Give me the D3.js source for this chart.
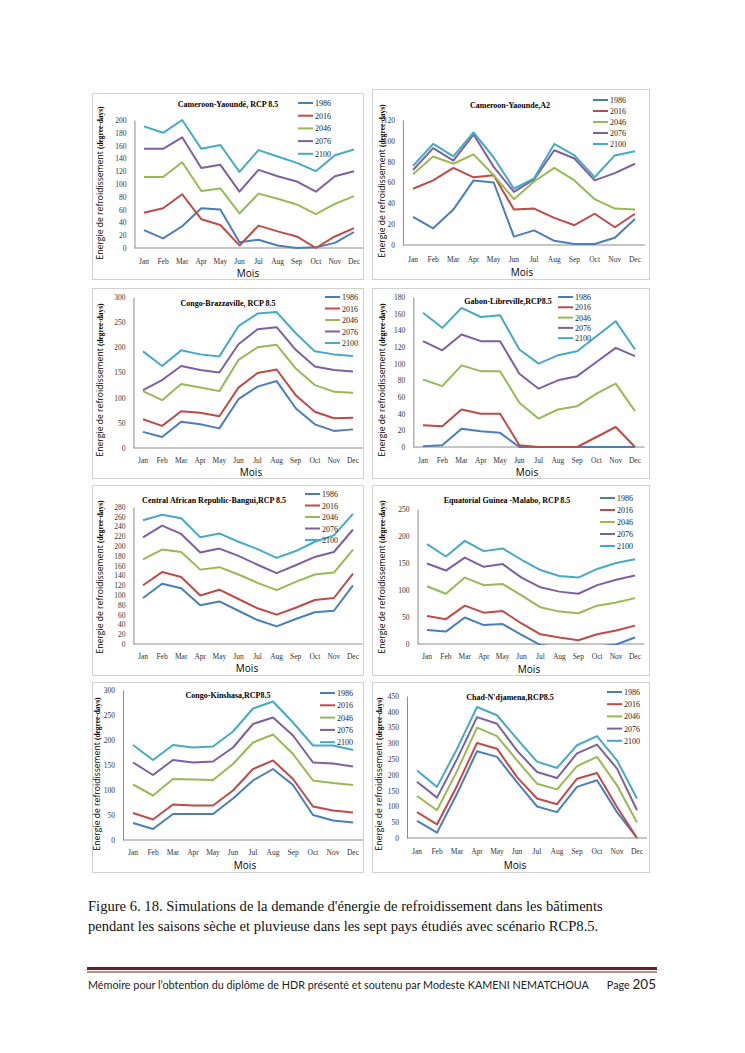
<!DOCTYPE html>
<html>
<head>
<meta charset="utf-8">
<script src="https://d3js.org/d3.v7.min.js"></script>
<style>
  body { margin: 0; background: #fff; }
</style>
</head>
<body>
<script>
// months and scenario years shared by all eight panels
var months = ["Jan","Feb","Mar","Apr","May","Jun","Jul","Aug","Sep","Oct","Nov","Dec"];
var years = ["1986","2016","2046","2076","2100"];
var colors = ["#4a7ebb","#be4b48","#98b954","#7d60a0","#46aac5"];

var serif = "Liberation Serif, serif";
var sans = "Open Sans, sans-serif";

// values, one row per year (1986, 2016, 2046, 2076, 2100)
var yaoundeRcp = [
  [28,15,34,62,60,9,13,4,0,1,8,25],
  [55,62,84,45,36,4,35,26,18,0,18,31],
  [111,111,134,89,93,54,85,77,68,53,69,81],
  [155,155,173,125,130,88,122,112,104,88,112,120],
  [190,180,200,155,161,119,153,143,133,120,145,154]
];
var yaoundeA2 = [
  [27,16,34,62,60,8,14,4,1,1,7,25],
  [54,62,74,65,67,34,35,26,19,30,17,30],
  [68,85,78,87,67,44,61,74,62,44,35,34],
  [72,93,81,106,75,51,63,91,83,62,69,78],
  [76,97,85,108,84,54,64,97,86,65,86,90]
];
var brazzaville = [
  [32,22,52,47,39,97,122,133,79,47,34,37],
  [57,44,73,70,63,120,149,156,105,72,59,60],
  [113,95,127,120,113,175,200,205,158,125,112,110],
  [115,135,163,155,150,206,236,240,195,162,155,152],
  [192,163,194,186,182,242,267,270,228,192,186,183]
];
var libreville = [
  [1,2,22,19,17,0,0,0,0,0,0,0],
  [26,25,45,40,40,2,0,0,0,12,24,0],
  [81,73,98,91,91,53,34,45,49,64,76,43],
  [127,116,135,127,127,88,70,80,85,102,119,109],
  [161,143,167,156,158,117,100,110,115,133,151,117]
];
var bangui = [
  [94,123,114,79,87,68,49,36,51,65,68,120],
  [120,147,137,99,111,92,73,60,74,90,94,144],
  [173,193,188,152,157,142,125,110,127,142,146,193],
  [218,242,225,187,195,180,162,145,161,178,188,234],
  [253,264,257,218,226,209,194,176,190,209,222,266]
];
var malabo = [
  [26,23,49,35,37,17,-2,-6,-8,-5,-1,12],
  [52,46,71,58,61,38,18,12,7,18,25,34],
  [107,93,123,109,111,90,68,60,57,71,77,85],
  [149,136,160,143,148,123,105,97,93,109,119,127],
  [185,162,191,172,177,156,137,126,123,139,150,157]
];
var kinshasa = [
  [34,22,52,52,52,83,119,142,110,50,39,35],
  [54,41,71,69,69,99,142,159,122,67,59,55],
  [111,89,122,121,120,152,195,211,172,119,114,110],
  [155,130,160,155,157,185,232,245,209,155,153,147],
  [190,160,190,185,187,217,263,277,235,189,189,180]
];
var ndjamena = [
  [54,17,140,275,257,177,100,82,162,183,82,0],
  [82,43,165,301,283,193,125,107,188,206,98,0],
  [133,88,212,350,323,246,172,154,228,257,167,49],
  [178,128,250,383,362,277,209,190,268,296,220,88],
  [214,162,282,415,389,314,242,222,294,323,246,125]
];

var panels = [
  {title:"Cameroon-Yaoundé, RCP 8.5", data:yaoundeRcp, max:200, step:20,
   box:[92,93,363,279], jan:144, dec:354, zero:248, top:120, tickY:261,
   titleX:228, titleY:104, mois:[248,277], yt:103,
   leg:{x:298, y:103, dy:12.7}},
  {title:"Cameroon-Yaounde,A2", data:yaoundeA2, max:120, step:20,
   box:[372,89,649,279], jan:413, dec:635, zero:245, top:120, tickY:259,
   titleX:510, titleY:105, mois:[522,276], yt:385,
   leg:{x:593, y:100, dy:11}},
  {title:"Congo-Brazzaville, RCP 8.5", data:brazzaville, max:300, step:50,
   box:[92,288,363,478], jan:143, dec:353, zero:448, top:297, tickY:460,
   titleX:228, titleY:303, mois:[251,476], yt:103,
   leg:{x:325, y:297, dy:11.5}},
  {title:"Gabon-Libreville,RCP8.5", data:libreville, max:180, step:20,
   box:[372,288,649,478], jan:423, dec:635, zero:447, top:297, tickY:460,
   titleX:508, titleY:301, mois:[527,476], yt:385,
   leg:{x:558, y:297, dy:10.3}},
  {title:"Central African Republic-Bangui,RCP 8.5", data:bangui, max:280, step:20,
   box:[92,485,363,675], jan:143, dec:353, zero:644, top:507, tickY:656,
   titleX:214, titleY:500, mois:[247,672], yt:103,
   leg:{x:305, y:494, dy:11.5}},
  {title:"Equatorial Guinea -Malabo, RCP 8.5", data:malabo, max:250, step:50,
   box:[372,485,649,675], jan:427, dec:635, zero:644, top:509, tickY:656,
   titleX:507, titleY:500, mois:[529,673], yt:385,
   leg:{x:600, y:498, dy:12}},
  {title:"Congo-Kinshasa,RCP8.5", data:kinshasa, max:300, step:50,
   box:[92,682,363,872], jan:133, dec:353, zero:840, top:690, tickY:852,
   titleX:228, titleY:695, mois:[245,869], yt:100,
   leg:{x:320, y:693, dy:12.3}},
  {title:"Chad-N'djamena,RCP8.5", data:ndjamena, max:450, step:50,
   box:[372,682,649,872], jan:417, dec:637, zero:838, top:696, tickY:851,
   titleX:510, titleY:697, mois:[515,869], yt:382,
   leg:{x:607, y:692, dy:12.2}}
];

var svg = d3.select("body").append("svg")
  .attr("width", 745).attr("height", 1053);

svg.append("rect").attr("width", 745).attr("height", 1053).attr("fill", "#fff");

panels.forEach(function(p, i) {
  var g = svg.append("g");
  var b = p.box;

  g.append("rect")
    .attr("x", b[0] + 0.5).attr("y", b[1] + 0.5)
    .attr("width", b[2] - b[0]).attr("height", b[3] - b[1])
    .attr("fill", "#fff").attr("stroke", "#d0d0d0").attr("stroke-width", 1);

  var x = d3.scalePoint().domain(months).range([p.jan, p.dec]);
  var half = x.step() / 2;
  var left = p.jan - half, right = p.dec + half;
  var y = d3.scaleLinear().domain([0, p.max]).range([p.zero, p.top]);

  // y axis
  var yAxis = d3.axisLeft(y).tickValues(d3.range(0, p.max + 1, p.step))
    .tickSize(0).tickPadding(8).tickFormat(d3.format("d"));
  var ya = g.append("g").attr("transform", "translate(" + left + ",0)").call(yAxis);
  ya.select(".domain").attr("stroke", "#8c8c8c");
  ya.selectAll("text").attr("font-size", 7.5).attr("fill", "#333")
    .style("font-family", serif);

  // x axis
  var xa = g.append("g").attr("transform", "translate(0," + p.zero + ")");
  xa.append("line").attr("x1", left).attr("x2", right)
    .attr("stroke", "#8c8c8c");
  xa.selectAll("text").data(months).enter().append("text")
    .attr("x", function(d) { return x(d); })
    .attr("y", p.tickY - p.zero + 2.5)
    .attr("text-anchor", "middle")
    .attr("font-size", 7.5).attr("fill", "#333")
    .style("font-family", serif)
    .text(function(d) { return d; });

  // series
  var clipId = "clip" + i;
  g.append("clipPath").attr("id", clipId).append("rect")
    .attr("x", left).attr("y", p.top - 6)
    .attr("width", right - left + 4).attr("height", p.zero - p.top + 7);

  var line = d3.line()
    .x(function(d, k) { return x(months[k]); })
    .y(function(d) { return y(d); });

  g.append("g").attr("clip-path", "url(#" + clipId + ")")
    .selectAll("path").data(p.data).enter().append("path")
    .attr("d", line)
    .attr("fill", "none")
    .attr("stroke", function(d, k) { return colors[k]; })
    .attr("stroke-width", 2)
    .attr("stroke-linejoin", "round");

  // title
  g.append("text")
    .attr("x", p.titleX).attr("y", p.titleY + 3)
    .attr("text-anchor", "middle")
    .attr("font-size", 8).attr("font-weight", "bold")
    .style("font-family", serif)
    .text(p.title);

  // legend
  var leg = g.selectAll(".leg").data(years).enter().append("g")
    .attr("transform", function(d, k) {
      return "translate(" + p.leg.x + "," + (p.leg.y + k * p.leg.dy) + ")";
    });
  leg.append("line").attr("x1", 0).attr("x2", 15)
    .attr("stroke", function(d, k) { return colors[k]; }).attr("stroke-width", 2);
  leg.append("text").attr("x", 17).attr("y", 3)
    .attr("font-size", 8).attr("fill", "#222")
    .style("font-family", serif)
    .text(function(d) { return d; });

  // axis titles
  var cy = (b[1] + b[3]) / 2 - 3;
  var yt = g.append("text")
    .attr("transform", "translate(" + p.yt + "," + cy + ") rotate(-90)")
    .attr("text-anchor", "middle");
  yt.append("tspan").style("font-family", sans)
    .attr("font-size", 8.6).text("Energie de refroidissement ");
  yt.append("tspan").style("font-family", serif)
    .attr("font-size", 7.4).attr("font-weight", "bold")
    .text("(degree-days)");

  g.append("text")
    .attr("x", p.mois[0]).attr("y", p.mois[1])
    .attr("text-anchor", "middle")
    .style("font-family", sans)
    .attr("font-size", 10)
    .text("Mois");
});

// caption
var caption = ["Figure 6. 18. Simulations de la demande d'énergie de refroidissement dans les bâtiments",
               "pendant les saisons sèche et pluvieuse dans les sept pays étudiés avec scénario RCP8.5."];
svg.selectAll(".cap").data(caption).enter().append("text")
  .attr("x", 88).attr("y", function(d, i) { return 911 + i * 19.5; })
  .attr("font-size", 14.6).attr("fill", "#111")
  .style("font-family", serif)
  .text(function(d) { return d; });

// footer
svg.append("line").attr("x1", 87).attr("x2", 657).attr("y1", 968.5).attr("y2", 968.5)
  .attr("stroke", "#622423").attr("stroke-width", 3);
svg.append("line").attr("x1", 87).attr("x2", 657).attr("y1", 972).attr("y2", 972)
  .attr("stroke", "#622423").attr("stroke-width", 1);

svg.append("text").attr("x", 88).attr("y", 989)
  .style("font-family", "Lato, sans-serif").attr("font-size", 10.8).attr("fill", "#222")
  .text("Mémoire  pour l’obtention du diplôme de HDR présenté et soutenu  par Modeste KAMENI NEMATCHOUA");
var pg = svg.append("text").attr("x", 656).attr("y", 989).attr("text-anchor", "end")
  .style("font-family", "Lato, sans-serif").attr("fill", "#222");
pg.append("tspan").attr("font-size", 10.8).text("Page ");
pg.append("tspan").attr("font-size", 13.5).text("205");
</script>
</body>
</html>
